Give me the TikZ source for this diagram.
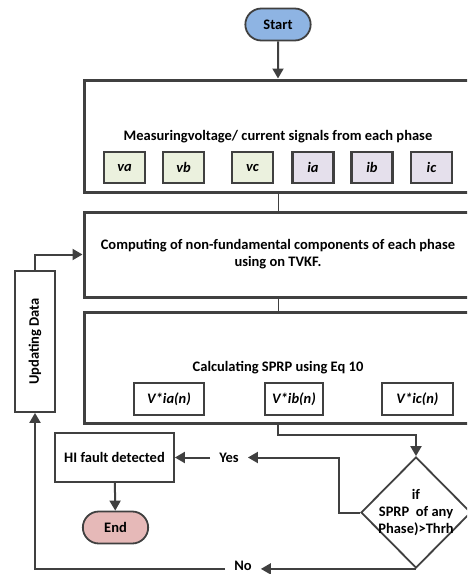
\documentclass[tikz,border=0pt]{standalone}
\usepackage{fontspec}
\setmainfont{Carlito}
\usepackage{graphicx}
\usetikzlibrary{arrows.meta,positioning,shapes.geometric,shapes.misc}
\definecolor{cLine} {HTML}{404040}
\definecolor{cStart}{HTML}{8EB4E3}
\definecolor{cEnd}  {HTML}{E6B9B8}
\definecolor{cVolt} {HTML}{EBF1DE}
\definecolor{cCurr} {HTML}{E5E0EC}
\newcommand\flowfont{\fontsize{14.5}{17}\selectfont\bfseries}
\tikzset{
  stage/.style ={draw=cLine,line width=3pt,fill=white,minimum width=388pt,
                 align=center,font=\flowfont},
  sig/.style   ={draw=cLine,line width=2.4pt,minimum width=41pt,minimum height=31pt,
                 inner sep=0pt,font=\flowfont\itshape},
  volt/.style  ={sig,fill=cVolt},
  curr/.style  ={sig,fill=cCurr},
  prod/.style  ={draw=cLine,line width=2pt,minimum height=32pt,inner sep=0pt,
                 font=\flowfont\itshape},
  term/.style  ={rounded rectangle,draw=cLine,line width=1.8pt,minimum width=72pt,
                 minimum height=32pt,font=\flowfont},
  proc/.style  ={draw=cLine,line width=1.8pt,fill=white,inner sep=2pt,font=\flowfont},
  decide/.style={diamond,draw=cLine,line width=1.8pt,minimum width=110pt,
                 minimum height=111pt,inner sep=0pt},
  lbl/.style   ={font=\flowfont,inner xsep=9pt,inner ysep=1pt},
  flow/.style  ={-{Triangle[length=10pt,width=11pt]},draw=cLine,line width=2pt},
  link/.style  ={draw=cLine,line width=1pt},
}

\begin{document}
\begin{tikzpicture}[x=1pt,y=-1pt]
\useasboundingbox (0,0) rectangle (467,574);
\clip (0,0) rectangle (467,574);

\node[term,fill=cStart] (start) at (278,24.5) {Start};

% measuring stage
\node[stage,minimum height=112pt] (meas) at (278,136) {};
\node[lbl] (meastxt) at (278,137) {Measuringvoltage/ current signals from each phase};
\node[volt] (va) at (124.5,167.5) {va};
\node[volt] (vb) at (183.5,167.5) {vb};
\node[volt] (vc) at (252.5,167.5) {vc};
\node[curr] (ia) at (313,167.5)   {ia};
\node[curr] (ib) at (372,167.5)   {ib};
\node[curr] (ic) at (431.5,167.5) {ic};

% filtering stage
\node[stage,minimum height=85pt] (comp) at (278,254.5)
  {Computing of non-fundamental components of each phase\\using on TVKF.};

% SPRP stage
\node[stage,minimum height=111pt] (calc) at (278,367.5) {};
\node[lbl] (calctxt) at (278,368) {Calculating SPRP using Eq 10};
\node[prod,minimum width=70pt] (pa) at (169,399)   {V*ia(n)};
\node[prod,minimum width=58pt] (pb) at (294,399)   {V*ib(n)};
\node[prod,minimum width=71pt] (pc) at (417.5,399) {V*ic(n)};

% decision and outcomes
\node[decide] (dec) at (416,512.5) {};
\node[lbl,align=center] (dectxt) at (416,513) {if\\SPRP\ \ of any\\Phase)>Thrh};
\node[lbl] (yes) at (229,457.5) {Yes};
\node[lbl] (no)  at (243,566)   {No};
\node[proc,minimum width=119pt,minimum height=49pt] (hi) at (114.5,457.5) {HI fault detected};
\node[term,fill=cEnd] (end) at (115.5,527.5) {End};
\node[proc,minimum width=40pt,minimum height=141pt] (upd) at (35,341.5)
  {\rotatebox{90}{Updating Data}};

\draw[flow] (start) -- (meas);
\draw[link] (meas) -- (comp);
\draw[link] (comp) -- (calc);
\draw[flow] (calc.south) -- ++(0,10.5) -| (dec.north);
\draw[flow] (dec.west) -- ++(-21,0) |- (yes.east);
\draw[flow] (yes) -- (hi);
\draw[flow] (hi) -- (end);
\draw[flow] (dec.south) -- (no.east |- dec.south);
\draw[flow] (no.west |- dec.south) -| (upd.south);
\draw[flow] (upd.north) |- (comp.west);
\end{tikzpicture}
\end{document}
